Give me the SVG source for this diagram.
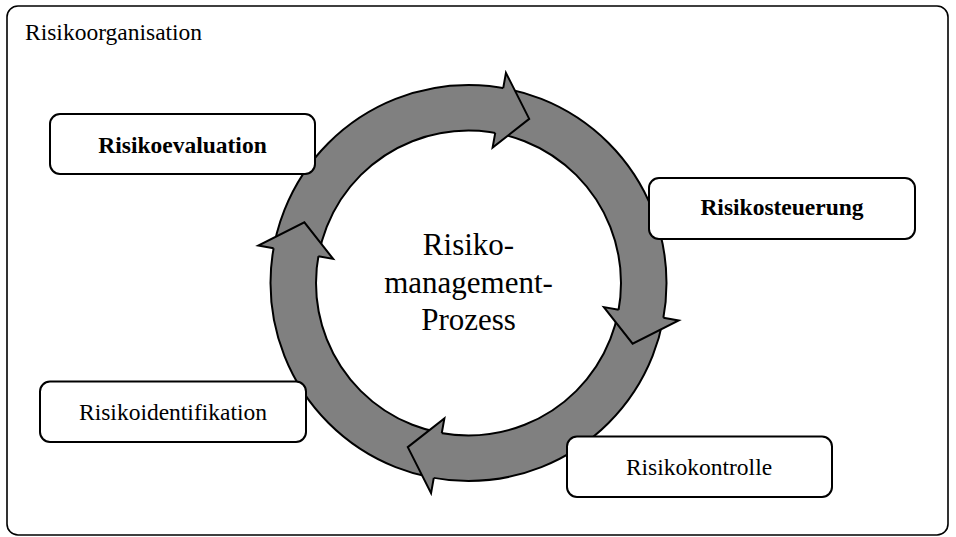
<svg xmlns="http://www.w3.org/2000/svg" width="956" height="537" viewBox="0 0 956 537">
<style>
.frame{fill:#ffffff;stroke:#000000;stroke-width:1.6}
.box{fill:#ffffff;stroke:#000000;stroke-width:2}
.ring{fill:#808080;stroke:#000000;stroke-width:2;fill-rule:evenodd}
.headfill{fill:#808080;stroke:none}
.headline{fill:none;stroke:#000000;stroke-width:2;stroke-linejoin:miter}
.t{font-family:"Liberation Serif","Times New Roman",serif;font-size:23.5px;fill:#000000;text-anchor:middle}
.b{font-weight:bold}
.big{font-family:"Liberation Serif","Times New Roman",serif;font-size:31px;fill:#000000;text-anchor:middle}
</style>
<g id="risikoorganisation">
<rect class="frame" x="7" y="6" width="941" height="529" rx="11"/>
<text x="25" y="40" class="t" style="text-anchor:start">Risikoorganisation</text>
</g>
<g id="connectors">
<path class="ring" d="M468.5,85 A198,198 0 1,1 468.5,481 A198,198 0 1,1 468.5,85 Z M468.5,130.5 A152.5,152.5 0 1,0 468.5,435.5 A152.5,152.5 0 1,0 468.5,130.5 Z"/>
<path class="headfill" d="M503.22,88.07 L505.94,72.81 L529.21,118.87 L492.61,147.63 L495.24,132.86 Z"/>
<path class="headline" d="M503.22,88.07 L505.94,72.81 L529.21,118.87 L492.61,147.63 L495.24,132.86"/>
<path class="headfill" d="M663.43,317.72 L678.69,320.44 L632.63,343.71 L603.87,307.11 L618.64,309.74 Z"/>
<path class="headline" d="M663.43,317.72 L678.69,320.44 L632.63,343.71 L603.87,307.11 L618.64,309.74"/>
<path class="headfill" d="M433.78,477.93 L431.06,493.19 L407.79,447.13 L444.39,418.37 L441.76,433.14 Z"/>
<path class="headline" d="M433.78,477.93 L431.06,493.19 L407.79,447.13 L444.39,418.37 L441.76,433.14"/>
<path class="headfill" d="M273.57,248.28 L258.31,245.56 L304.37,222.29 L333.13,258.89 L318.36,256.26 Z"/>
<path class="headline" d="M273.57,248.28 L258.31,245.56 L304.37,222.29 L333.13,258.89 L318.36,256.26"/>
</g>
<g id="prozess">
<text class="big" x="468.5" y="255">Risiko-</text>
<text class="big" x="468.5" y="292.5">management-</text>
<text class="big" x="468.5" y="330">Prozess</text>
</g>
<g id="risikoevaluation">
<rect class="box" x="50" y="114" width="265" height="60" rx="10"/>
<text class="t b" x="182.5" y="153">Risikoevaluation</text>
</g>
<g id="risikosteuerung">
<rect class="box" x="649" y="178" width="266" height="61" rx="10"/>
<text class="t b" x="782" y="215">Risikosteuerung</text>
</g>
<g id="risikoidentifikation">
<rect class="box" x="40" y="381.5" width="266" height="60.5" rx="10"/>
<text class="t" x="173" y="420">Risikoidentifikation</text>
</g>
<g id="risikokontrolle">
<rect class="box" x="567" y="436.5" width="265" height="60.5" rx="10"/>
<text class="t" x="699" y="475">Risikokontrolle</text>
</g>
</svg>
